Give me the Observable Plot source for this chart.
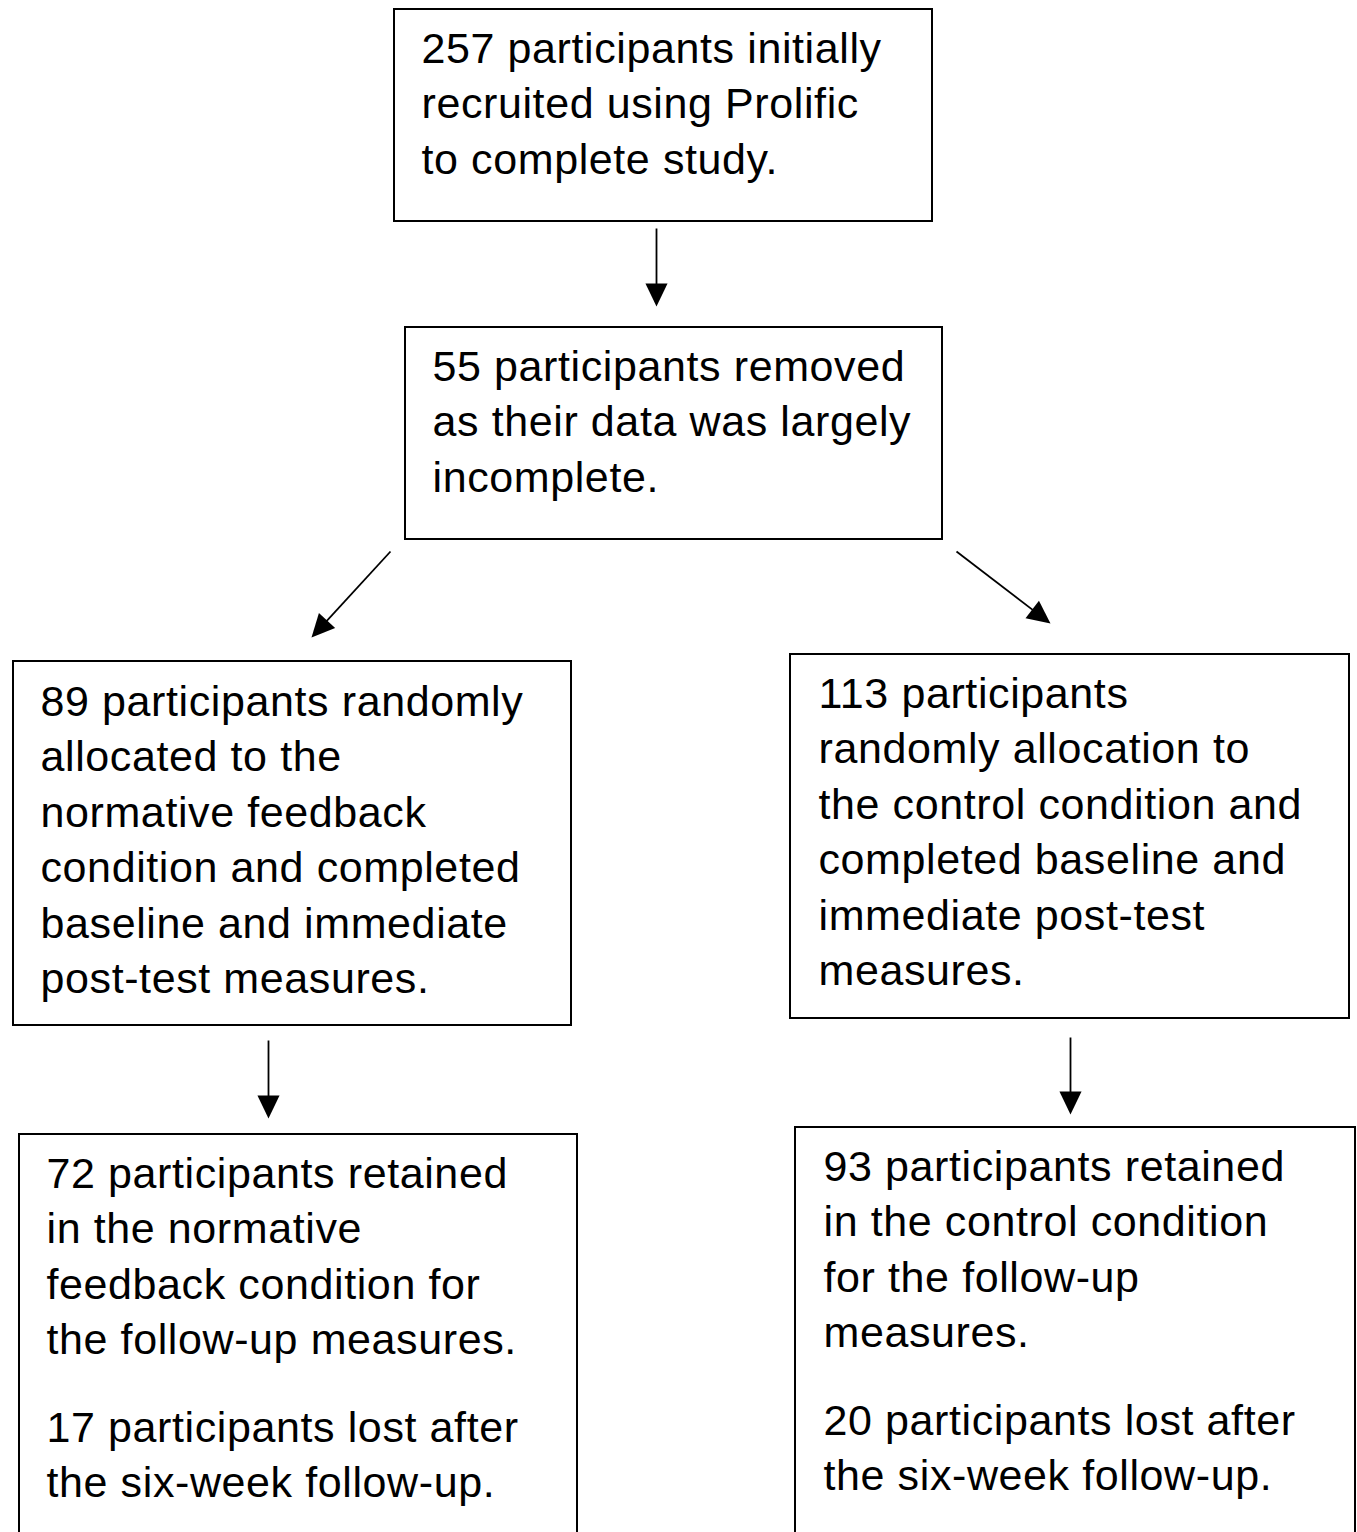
<!DOCTYPE html>
<html>
<head>
<meta charset="utf-8">
<script src="https://cdn.jsdelivr.net/npm/d3@7"></script>
<script src="https://cdn.jsdelivr.net/npm/@observablehq/plot@0.6"></script>
<style>
  html, body { margin: 0; padding: 0; background: #fff; overflow: hidden; }
  #chart svg { display: block; }
  #chart text { letter-spacing: 0.6px; }
</style>
</head>
<body>
<div id="chart"></div>
<script>
// ---- content ----
const boxIds = ["recruited", "removed", "feedback", "control", "feedbackFollow", "controlFollow"];
const boxParagraphs = [
  ["257 participants initially\nrecruited using Prolific\nto complete study."],
  ["55 participants removed\nas their data was largely\nincomplete."],
  ["89 participants randomly\nallocated to the\nnormative feedback\ncondition and completed\nbaseline and immediate\npost-test measures."],
  ["113 participants\nrandomly allocation to\nthe control condition and\ncompleted baseline and\nimmediate post-test\nmeasures."],
  ["72 participants retained\nin the normative\nfeedback condition for\nthe follow-up measures.", "17 participants lost after\nthe six-week follow-up."],
  ["93 participants retained\nin the control condition\nfor the follow-up\nmeasures.", "20 participants lost after\nthe six-week follow-up."]
];
// ---- layout (diagram coordinates) ----
const boxLeft   = [394, 405, 13, 790, 19, 795];
const boxRight  = [932, 942, 571, 1349, 577, 1355];
const boxTop    = [9, 327, 661, 654, 1134, 1127];
const boxBottom = [221, 539, 1025, 1018, 1545, 1545];
const textLeft  = [421, 432, 40, 818, 46, 823];
const paraTop   = [[23], [341], [676], [668], [1148, 1402], [1141, 1395]];

const arrowFrom = [[656, 228], [390, 551], [956, 551], [268, 1040], [1070, 1037]];
const arrowTo   = [[656, 306], [311, 637], [1050, 623], [268, 1118], [1070, 1114]];

// ---- derived tables ----
const boxes = boxIds.map((id, i) => ({id, x1: boxLeft[i], x2: boxRight[i], y1: boxTop[i], y2: boxBottom[i]}));
const labels = boxIds.flatMap((id, i) => boxParagraphs[i].map((t, j) => ({id, text: t, x: textLeft[i], y: paraTop[i][j]})));
const headLen = 23;
const arrows = arrowFrom.map((f, i) => {
  const t = arrowTo[i];
  const dx = t[0] - f[0], dy = t[1] - f[1];
  const L = Math.hypot(dx, dy);
  const ux = dx / L, uy = dy / L;
  return {
    x1: f[0], y1: f[1],
    x2: t[0] - ux * headLen * 0.6, y2: t[1] - uy * headLen * 0.6,
    hx: t[0] - ux * headLen / 2, hy: t[1] - uy * headLen / 2,
    angle: Math.atan2(dx, -dy) * 180 / Math.PI
  };
});

const head = {
  draw(context, size) {
    const r = Math.sqrt(size / Math.PI);
    context.moveTo(0, -r);
    context.lineTo(r * 0.96, r);
    context.lineTo(-r * 0.96, r);
    context.closePath();
  }
};

const W = 1357, H = 1532;
const chart = Plot.plot({
  width: W,
  height: H,
  margin: 0,
  x: {domain: [0, W], axis: null},
  y: {domain: [0, H], reverse: true, axis: null},
  style: {fontFamily: "'Liberation Sans', Arial, sans-serif", background: "#fff"},
  marks: [
    Plot.rect(boxes, {x1: "x1", x2: "x2", y1: "y1", y2: "y2", fill: "none", stroke: "#000", strokeWidth: 2, clip: true}),
    Plot.link(arrows, {x1: "x1", y1: "y1", x2: "x2", y2: "y2", stroke: "#000", strokeWidth: 1.8}),
    Plot.dot(arrows, {x: "hx", y: "hy", r: headLen / 2, symbol: head, rotate: "angle", fill: "#000", stroke: "none"}),
    Plot.text(labels, {x: "x", y: "y", text: "text", textAnchor: "start", lineAnchor: "top", fontSize: 43, lineHeight: 1.29, fill: "#000"})
  ]
});
document.getElementById("chart").appendChild(chart);
</script>
</body>
</html>
